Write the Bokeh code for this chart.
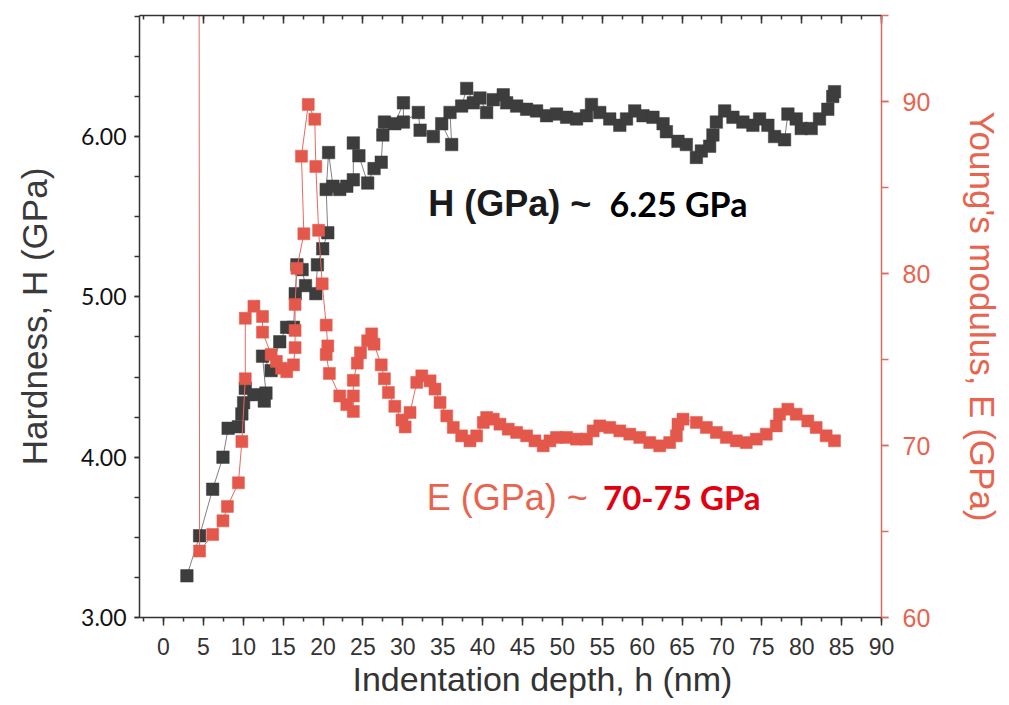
from bokeh.plotting import figure
from bokeh.models import (Range1d, LinearAxis, SingleIntervalTicker, NumeralTickFormatter,
                          Label, Title, CustomJSTickFormatter, ColumnDataSource)
from bokeh.embed import file_html
from bokeh.resources import INLINE

# ---- data ----
depth_H = [2.94, 4.53, 6.17, 7.46, 8.11, 9.40, 9.83, 10.05, 10.26, 11.34, 12.64, 12.85, 12.42, 13.50,
           14.58, 15.44, 16.30, 16.52, 16.73, 17.38, 17.81, 19.10, 19.30, 19.96, 20.60, 20.40, 20.70,
           21.25, 22.10, 22.98, 23.80, 23.80, 24.50, 25.60, 26.40, 27.30, 27.50, 27.70, 29.00,
           30.08, 30.08, 31.95, 32.17, 33.83, 34.88, 36.13, 35.92, 37.38, 38.01, 38.84, 39.67, 40.51,
           41.34, 42.59, 43.02, 44.27, 45.52, 46.77, 48.02, 49.27, 50.53, 51.78, 53.03, 53.65, 54.69,
           55.94, 57.20, 58.04, 59.07, 60.11, 61.36, 62.62, 63.04, 64.49, 65.54, 66.80, 67.42, 68.46,
           68.87, 69.30, 70.34, 71.38, 72.63, 73.88, 74.72, 75.76, 76.60, 77.85, 78.27, 79.31, 79.94,
           81.19, 82.23, 83.27, 83.89, 84.11]
hardness = [3.26, 3.51, 3.80, 4.00, 4.18, 4.19, 4.27, 4.34, 4.43, 4.39, 4.35, 4.40, 4.63, 4.54,
            4.72, 4.81, 4.81, 5.02, 5.20, 5.17, 5.07, 5.02, 5.20, 5.30, 5.40, 5.67, 5.90,
            5.69, 5.67, 5.69, 5.73, 5.96, 5.88, 5.71, 5.80, 5.84, 6.01, 6.09, 6.08,
            6.21, 6.09, 6.15, 6.04, 6.00, 6.08, 5.95, 6.15, 6.19, 6.30, 6.21, 6.24, 6.15,
            6.23, 6.26, 6.21, 6.19, 6.17, 6.16, 6.13, 6.14, 6.12, 6.11, 6.13, 6.20, 6.15,
            6.11, 6.07, 6.11, 6.16, 6.13, 6.12, 6.08, 6.03, 5.97, 5.95, 5.87, 5.91, 5.94,
            6.01, 6.09, 6.16, 6.12, 6.09, 6.07, 6.11, 6.07, 6.00, 5.98, 6.14, 6.11, 6.05,
            6.05, 6.11, 6.17, 6.25, 6.28]

depth_E = [4.45, 4.53, 6.17, 7.46, 8.02, 9.40, 9.83, 10.26, 10.26, 11.34, 12.42, 12.42, 13.50, 14.15,
           14.80, 15.45, 16.30, 16.50, 16.50, 16.50, 16.73, 17.60, 17.30, 18.15, 18.97, 19.10, 19.45,
           19.90, 20.40, 20.60, 20.40, 20.80, 22.10, 22.98, 23.80, 23.80, 23.80, 24.30, 24.70, 25.60,
           26.10, 26.40, 27.30, 27.70, 28.20, 29.00, 29.90, 30.30, 30.91, 31.75, 32.38, 33.42, 34.04,
           34.67, 35.51, 36.33, 37.38, 38.42, 39.26, 40.09, 40.51, 41.34, 42.18, 43.22, 44.27, 45.52,
           46.56, 47.60, 48.44, 49.27, 50.53, 51.78, 53.03, 53.86, 54.69, 55.94, 57.20, 58.45, 59.70,
           60.95, 62.20, 63.45, 64.29, 64.49, 65.12, 66.80, 68.05, 69.30, 70.55, 71.80, 73.05, 74.31,
           75.56, 76.81, 77.22, 78.26, 79.31, 80.76, 81.81, 83.06, 84.11]
modulus = [110.0, 63.86, 64.82, 65.62, 66.46, 67.83, 70.23, 73.88, 77.40, 78.10, 77.50, 76.59, 75.29, 74.89,
           74.49, 74.29, 74.69, 75.69, 76.69, 78.20, 80.30, 82.31, 86.82, 89.83, 88.97, 86.22, 82.51,
           79.40, 77.00, 75.79, 75.29, 74.19, 72.88, 72.38, 71.98, 72.88, 73.79, 74.79, 75.39, 76.09,
           76.49, 75.89, 74.69, 73.88, 73.08, 72.28, 71.48, 71.08, 71.92, 73.67, 74.05, 73.76, 73.28,
           72.50, 71.72, 71.05, 70.56, 70.27, 70.56, 71.34, 71.63, 71.53, 71.24, 70.95, 70.76, 70.56,
           70.27, 69.98, 70.27, 70.47, 70.47, 70.37, 70.37, 70.85, 71.14, 71.05, 70.85, 70.66, 70.47,
           70.17, 69.98, 70.17, 70.56, 71.24, 71.53, 71.34, 71.05, 70.76, 70.47, 70.27, 70.17, 70.37,
           70.66, 71.14, 71.82, 72.11, 71.82, 71.43, 71.05, 70.56, 70.27]

x_title = "Indentation depth, h (nm)"
h_title = "Hardness, H (GPa)"
e_title = "Young's modulus, E (GPa)"
h_label = "H (GPa) ~"
h_value = "6.25 GPa"
e_label = "E (GPa) ~"
e_value = "70-75 GPa"

# ---- styles ----
BLACK = "#3d3d3d"
RED = "#e4584c"
SALMON = "#e8644e"
AXIS = "#333333"

p = figure(width=1005, height=703, x_range=Range1d(-3, 90), y_range=Range1d(3, 6.755),
           output_backend="svg", toolbar_location=None,
           min_border_left=139, min_border_right=123, min_border_top=15, min_border_bottom=86)
p.extra_y_ranges = {"E": Range1d(60, 95)}
p.outline_line_color = None
p.grid.visible = False
p.background_fill_color = "white"
p.border_fill_color = "white"

src_H = ColumnDataSource(dict(x=depth_H, y=hardness))
src_E = ColumnDataSource(dict(x=depth_E, y=modulus))

p.line("x", "y", source=src_H, line_color="#808080", line_width=1)
p.scatter("x", "y", source=src_H, marker="square", size=12.5, fill_color=BLACK, line_color=BLACK, line_width=0.5)
p.line("x", "y", source=src_E, line_color="#e86a62", line_width=1, y_range_name="E")
p.scatter("x", "y", source=src_E, marker="square", size=12, fill_color=RED, line_color=RED, line_width=0.5,
          y_range_name="E")

# bottom axis
xa = p.xaxis[0]
xa.ticker = SingleIntervalTicker(interval=5, num_minor_ticks=2)
xa.major_label_text_font = "'Liberation Sans Narrow', 'Liberation Sans', sans-serif"
xa.major_label_text_font_size = "23px"
xa.major_label_text_color = AXIS
xa.major_label_standoff = 12
xa.axis_line_color = AXIS
xa.axis_line_width = 1.5
xa.major_tick_line_color = AXIS
xa.minor_tick_line_color = AXIS
xa.major_tick_line_width = 1.5
xa.minor_tick_line_width = 1.5
xa.major_tick_in = 0
xa.major_tick_out = 8
xa.minor_tick_in = 0
xa.minor_tick_out = 4

# x title below the axis (the original sits right of centre)
p.add_layout(Title(text=x_title, align="left", offset=213, standoff=0,
                   text_font="Liberation Sans", text_font_size="34px", text_font_style="normal",
                   text_color=AXIS), "below")

# top axis (ticks only)
ta = LinearAxis(ticker=SingleIntervalTicker(interval=5, num_minor_ticks=2),
                formatter=CustomJSTickFormatter(code="return ''"))
ta.major_label_text_font_size = "1px"
ta.major_label_standoff = 0
ta.axis_line_color = AXIS
ta.axis_line_width = 1.5
ta.major_tick_line_color = AXIS
ta.minor_tick_line_color = AXIS
ta.major_tick_line_width = 1.5
ta.minor_tick_line_width = 1.5
ta.major_tick_in = 8
ta.major_tick_out = 0
ta.minor_tick_in = 4
ta.minor_tick_out = 0
p.add_layout(ta, "above")

# left axis
ya = p.yaxis[0]
ya.ticker = SingleIntervalTicker(interval=1, num_minor_ticks=4)
ya.formatter = NumeralTickFormatter(format="0.00")
ya.axis_label = h_title
ya.axis_label_text_font = "Liberation Sans"
ya.axis_label_text_font_size = "35px"
ya.axis_label_text_font_style = "normal"
ya.axis_label_text_color = "#3a3a3a"
ya.axis_label_standoff = 24
ya.major_label_text_font = "Lato"
ya.major_label_text_font_size = "23px"
ya.major_label_text_color = "#111111"
ya.major_label_standoff = 8
ya.axis_line_color = AXIS
ya.axis_line_width = 1.5
ya.major_tick_line_color = AXIS
ya.minor_tick_line_color = AXIS
ya.major_tick_line_width = 1.5
ya.minor_tick_line_width = 1.5
ya.major_tick_in = 0
ya.major_tick_out = 5
ya.minor_tick_in = 0
ya.minor_tick_out = 5

# right axis
ra = LinearAxis(y_range_name="E", ticker=SingleIntervalTicker(interval=10, num_minor_ticks=2))
ra.axis_label = e_title
ra.axis_label_text_font = "Liberation Sans"
ra.axis_label_text_font_size = "35px"
ra.axis_label_text_font_style = "normal"
ra.axis_label_text_color = SALMON
ra.axis_label_standoff = 30
ra.major_label_text_font = "Liberation Sans"
ra.major_label_text_font_size = "25px"
ra.major_label_text_color = SALMON
ra.major_label_standoff = 14
ra.axis_line_color = "#e06a62"
ra.axis_line_width = 1.5
ra.major_tick_line_color = "#e06a62"
ra.minor_tick_line_color = "#e06a62"
ra.major_tick_line_width = 1.5
ra.minor_tick_line_width = 1.5
ra.major_tick_in = 0
ra.major_tick_out = 7
ra.minor_tick_in = 0
ra.minor_tick_out = 7
p.add_layout(ra, "right")

# annotations
p.add_layout(Label(x=33.2, y=5.585, text=h_label, text_font="Liberation Sans", text_font_style="bold",
                   text_font_size="36px", text_color="#1a1a1a", text_baseline="alphabetic"))
p.add_layout(Label(x=55.9, y=5.585, text=h_value, text_font="Lato", text_font_style="bold",
                   text_font_size="34px", text_color="#000000", text_baseline="alphabetic"))
p.add_layout(Label(x=33.0, y=3.75, text=e_label, text_font="Liberation Sans", text_font_style="normal",
                   text_font_size="36px", text_color=SALMON, text_baseline="alphabetic"))
p.add_layout(Label(x=55.1, y=3.75, text=e_value, text_font="Lato", text_font_style="bold",
                   text_font_size="33px", text_color="#e00010", text_baseline="alphabetic"))

open("out.html", "w").write(file_html(p, INLINE))
